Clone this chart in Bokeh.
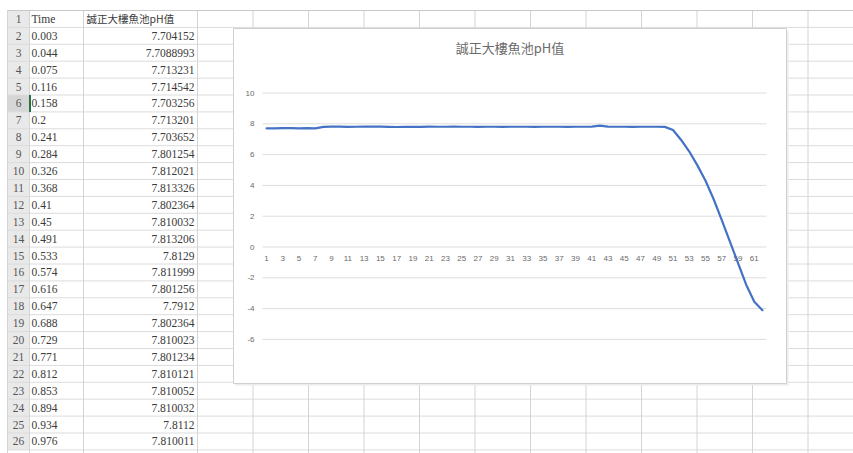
from bokeh.plotting import figure
from bokeh.models import Range1d
from bokeh.core.properties import value
from bokeh.embed import file_html
from bokeh.resources import INLINE

# ---------------- data ----------------
row_numbers = list(range(1, 27))
time_header = "Time"
ph_header = "誠正大樓魚池pH值"
times = ["0.003", "0.044", "0.075", "0.116", "0.158", "0.2", "0.241", "0.284",
         "0.326", "0.368", "0.41", "0.45", "0.491", "0.533", "0.574", "0.616",
         "0.647", "0.688", "0.729", "0.771", "0.812", "0.853", "0.894", "0.934",
         "0.976"]
table_ph = ["7.704152", "7.7088993", "7.713231", "7.714542", "7.703256",
            "7.713201", "7.703652", "7.801254", "7.812021", "7.813326",
            "7.802364", "7.810032", "7.813206", "7.8129", "7.811999",
            "7.801256", "7.7912", "7.802364", "7.810023", "7.801234",
            "7.810121", "7.810052", "7.810032", "7.8112", "7.810011"]
# points 26..62
ph_tail = [7.81, 7.80, 7.81, 7.81, 7.80, 7.81, 7.81, 7.81, 7.80, 7.81,
           7.81, 7.81, 7.80, 7.81, 7.81, 7.82, 7.88, 7.82, 7.81, 7.81,
           7.80, 7.81, 7.81, 7.81, 7.80,
           7.60, 6.95, 6.20, 5.30, 4.30, 3.10, 1.75, 0.35, -1.05, -2.45,
           -3.55, -4.10]
chart_title = "誠正大樓魚池pH值"
ph_values = [float(s) for s in table_ph] + ph_tail
categories = list(range(1, len(ph_values) + 1))
y_ticks = [10, 8, 6, 4, 2, 0, -2, -4, -6]
x_tick_cats = [c for c in categories if c % 2 == 1]

# ---------------- layout ----------------
W, H = 853, 453
ROW_TOP, ROW_H = 10.0, 16.9
HDR_L, HDR_R = 7, 29
COL_A_R, COL_B_R = 83, 197
COL_W = 55.5
BOX_L, BOX_R, BOX_T, BOX_B = 233, 786, 28, 383
PL, PR = 262, 766          # plot area, px
Y_ZERO, PX_PER_UNIT = 246.5, 15.4

n = len(categories)
ppc = (PR - PL) / n
cat_start = 0.5 - PL / ppc
cat_end = cat_start + W / ppc
ph_top = Y_ZERO / PX_PER_UNIT
ph_bottom = -(H - Y_ZERO) / PX_PER_UNIT

p = figure(width=W, height=H, x_range=Range1d(0, W), y_range=Range1d(H, 0),
           x_axis_type=None, y_axis_type=None, toolbar_location=None,
           output_backend="svg", min_border=0)
p.outline_line_color = None
p.grid.visible = False
p.background_fill_color = "white"
p.extra_x_ranges = {"cat": Range1d(cat_start, cat_end)}
p.extra_y_ranges = {"ph": Range1d(ph_bottom, ph_top)}

# ---------------- spreadsheet ----------------
n_rows = len(row_numbers)
sheet_bottom = ROW_TOP + n_rows * ROW_H
p.quad(left=HDR_L, right=HDR_R, top=ROW_TOP, bottom=sheet_bottom,
       fill_color="#e9e9e9", line_color=None)
sel = 6
p.quad(left=HDR_L, right=HDR_R, top=ROW_TOP + (sel - 1) * ROW_H,
       bottom=ROW_TOP + sel * ROW_H, fill_color="#d6d6d6", line_color=None)

h_y = [ROW_TOP + k * ROW_H for k in range(n_rows + 1)]
p.segment(x0=[HDR_L] * len(h_y), x1=[W] * len(h_y), y0=h_y, y1=h_y,
          line_color="#dcdcdc", line_width=1)
v_x = [HDR_L, HDR_R, COL_A_R, COL_B_R] + [COL_B_R + COL_W * k for k in range(1, 13)]
p.segment(x0=v_x, x1=v_x, y0=[ROW_TOP] * len(v_x), y1=[H] * len(v_x),
          line_color="#d4d4d4", line_width=1)
p.segment(x0=[HDR_L], x1=[W], y0=[ROW_TOP], y1=[ROW_TOP], line_color="#c8c8c8")
# selected cell marker
p.segment(x0=[HDR_R + 0.5], x1=[HDR_R + 0.5], y0=[ROW_TOP + (sel - 1) * ROW_H],
          y1=[ROW_TOP + sel * ROW_H], line_color="#217346", line_width=2)

centers = [ROW_TOP + (k + 0.5) * ROW_H for k in range(n_rows)]
serif = value("Liberation Serif")
p.text(x=[(HDR_L + HDR_R) / 2] * n_rows, y=centers, text=[str(r) for r in row_numbers],
       text_align="center", text_baseline="middle", text_font=serif,
       text_font_size="11.5px", text_color="#555555")
p.text(x=[HDR_R + 2] * n_rows, y=centers, text=[time_header] + times,
       text_align="left", text_baseline="middle", text_font=serif,
       text_font_size="11.5px", text_color="#3a3a3a")
p.text(x=[COL_A_R + 3], y=centers[:1], text=[ph_header], text_align="left",
       text_baseline="middle", text_font=value("Noto Sans CJK TC"),
       text_font_size="10.5px", text_color="#3a3a3a")
p.text(x=[COL_B_R - 3] * len(table_ph), y=centers[1:1 + len(table_ph)], text=table_ph,
       text_align="right", text_baseline="middle", text_font=serif,
       text_font_size="11.5px", text_color="#3a3a3a")

# ---------------- chart ----------------
p.quad(left=BOX_L + 2, right=BOX_R + 2, top=BOX_T + 2, bottom=BOX_B + 2,
       fill_color="#ececec", line_color=None)
p.quad(left=BOX_L, right=BOX_R, top=BOX_T, bottom=BOX_B,
       fill_color="white", line_color="#d0d0d0", line_width=1)
p.text(x=[(BOX_L + BOX_R) / 2], y=[46.5], text=[chart_title], text_align="center",
       text_baseline="middle", text_font=value("Noto Sans CJK TC"),
       text_font_size="13px", text_color="#6a6a6a")

p.segment(x0=[0.5] * len(y_ticks), x1=[n + 0.5] * len(y_ticks), y0=y_ticks, y1=y_ticks,
          x_range_name="cat", y_range_name="ph", line_color="#dedede", line_width=1)
sans = value("Liberation Sans")
p.text(x=[0.5] * len(y_ticks), y=y_ticks, text=[str(t) for t in y_ticks],
       x_offset=-8, text_align="right", text_baseline="middle",
       x_range_name="cat", y_range_name="ph", text_font=sans,
       text_font_size="8px", text_color="#6a6a6a")
p.text(x=x_tick_cats, y=[0] * len(x_tick_cats), text=[str(c) for c in x_tick_cats],
       y_offset=11.5, text_align="center", text_baseline="middle",
       x_range_name="cat", y_range_name="ph", text_font=sans,
       text_font_size="8px", text_color="#6a6a6a")
p.line(categories, ph_values, x_range_name="cat", y_range_name="ph",
       line_color="#4472C4", line_width=2.2, line_join="round", line_cap="round")

open("out.html", "w").write(file_html(p, INLINE))
